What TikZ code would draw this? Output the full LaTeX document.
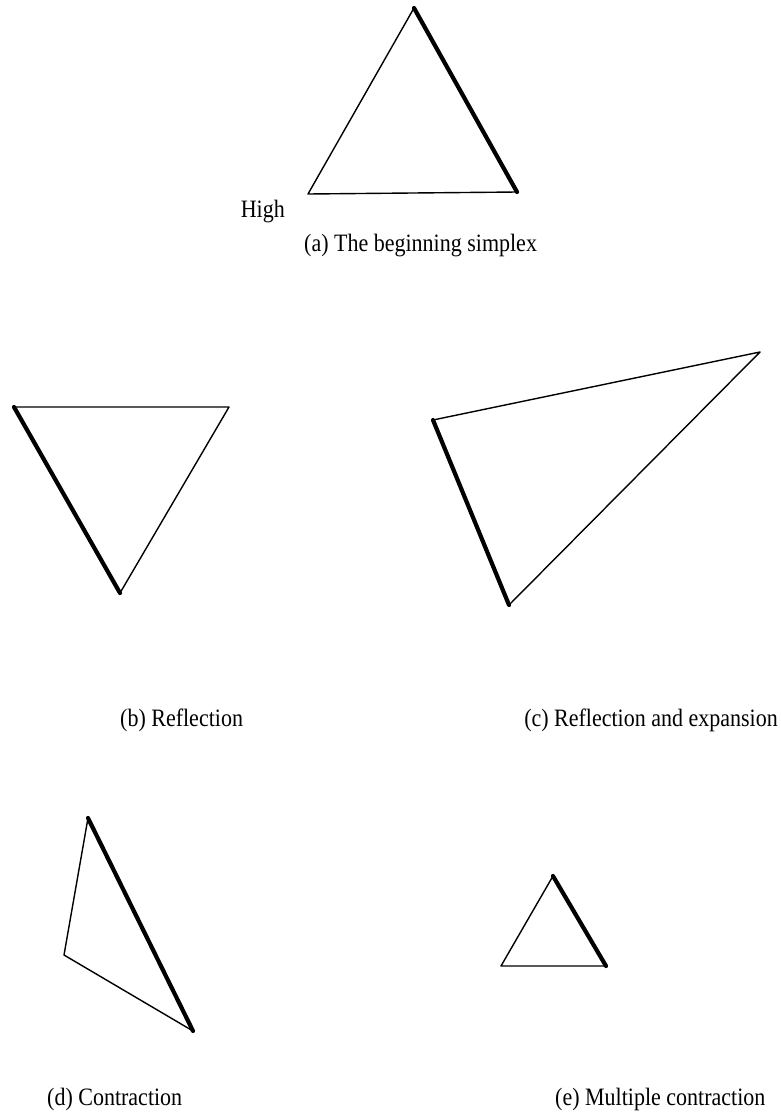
\documentclass[tikz,border=0pt]{standalone}
\usepackage{fontspec}
\setmainfont{Liberation Serif}
\usepackage{graphicx}
\newcommand{\captxt}[1]{\scalebox{0.88}[1]{#1}}
\begin{document}
\begin{tikzpicture}[x=1pt,y=-1pt,
  thinedge/.style={line width=1.4pt, line join=round, line cap=round},
  thickedge/.style={line width=4.2pt, line cap=round},
  captext/.style={inner sep=0pt, anchor=base west, font=\fontsize{25}{29}\selectfont},
  captextr/.style={inner sep=0pt, anchor=base east, font=\fontsize{25}{29}\selectfont}]
\useasboundingbox (0,0) rectangle (780,1114);
% (a)
\coordinate (a1) at (414,8);
\coordinate (a2) at (308,194);
\coordinate (a3) at (517,192);
\draw[thinedge] (a1) -- (a2) -- (a3);
\draw[thickedge] (a1) -- (a3);
\node[captextr] (high) at (285,217) {\captxt{High}};
\node[captext] (capa) at (304,251) {\captxt{(a) The beginning simplex}};
% (b)
\coordinate (b1) at (14,407);
\coordinate (b2) at (229,407);
\coordinate (b3) at (120,593);
\draw[thinedge] (b1) -- (b2) -- (b3);
\draw[thickedge] (b1) -- (b3);
\node[captext] (capb) at (120,726) {\captxt{(b) Reflection}};
% (c)
\coordinate (c1) at (433,420);
\coordinate (c2) at (760,352);
\coordinate (c3) at (509,605);
\draw[thinedge] (c1) -- (c2) -- (c3);
\draw[thickedge] (c1) -- (c3);
\node[captextr] (capc) at (778,726) {\captxt{(c) Reflection and expansion}};
% (d)
\coordinate (d1) at (88,818);
\coordinate (d2) at (64,955);
\coordinate (d3) at (193,1031);
\draw[thinedge] (d1) -- (d2) -- (d3);
\draw[thickedge] (d1) -- (d3);
\node[captext] (capd) at (47,1105) {\captxt{(d) Contraction}};
% (e)
\coordinate (e1) at (553,876);
\coordinate (e2) at (501,966);
\coordinate (e3) at (606,966);
\draw[thinedge] (e1) -- (e2) -- (e3);
\draw[thickedge] (e1) -- (e3);
\node[captext] (cape) at (555,1105) {\captxt{(e) Multiple contraction}};
\end{tikzpicture}
\end{document}
